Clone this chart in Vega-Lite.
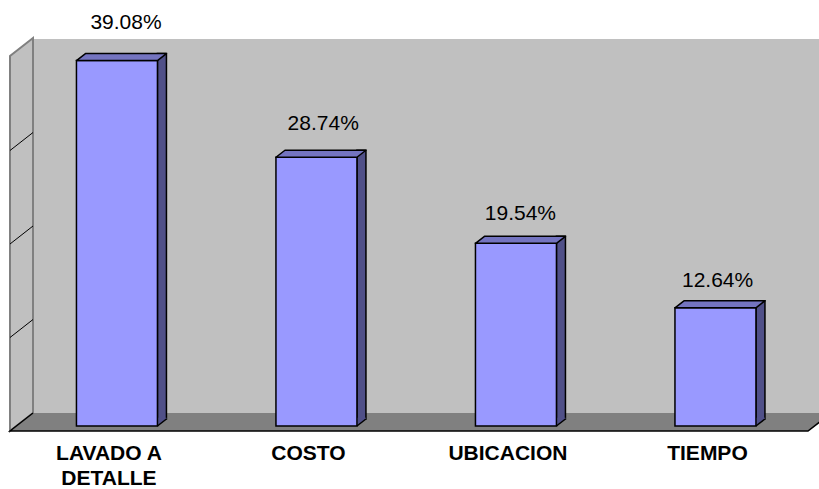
{
  "$schema": "https://vega.github.io/schema/vega-lite/v6.json",
  "width": 786,
  "height": 374,
  "autosize": {"type": "none"},
  "padding": {"left": 33, "top": 39, "right": 0, "bottom": 76},
  "background": "white",
  "view": {"fill": "#c0c0c0", "stroke": null},
  "config": {"font": "Liberation Sans"},
  "datasets": {
    "bars": [
      {"categoria": "LAVADO A DETALLE", "porcentaje": 0.3908},
      {"categoria": "COSTO", "porcentaje": 0.2874},
      {"categoria": "UBICACION", "porcentaje": 0.1954},
      {"categoria": "TIEMPO", "porcentaje": 0.1264}
    ],
    "grid": [{"g": 0.1}, {"g": 0.2}, {"g": 0.3}],
    "one": [{"k": 1}]
  },
  "layer": [
    {
      "resolve": {"scale": {"x": "independent"}, "axis": {"x": "independent"}},
      "layer": [
        {
          "data": {"name": "one"},
          "mark": {"type": "point", "shape": "M-23,18L-23,-357L0,-375L0,0Z", "size": 4, "filled": true, "fill": "#c0c0c0", "stroke": "#808080", "strokeWidth": 2, "opacity": 1},
          "encoding": {
            "x": {"datum": 0, "type": "quantitative", "scale": {"domain": [0, 1]}, "axis": null},
            "y": {"datum": 0, "type": "quantitative", "scale": {"domain": [0, 0.4], "zero": false, "nice": false}, "axis": null}
          }
        },
        {
          "data": {"name": "grid"},
          "mark": {"type": "rule", "color": "black", "strokeWidth": 1, "xOffset": -23, "yOffset": 18},
          "encoding": {
            "x": {"datum": 0, "type": "quantitative", "scale": {"domain": [0, 1]}, "axis": null},
            "x2": {"datum": 0},
            "y": {"field": "g", "type": "quantitative", "scale": {"domain": [0, 0.4], "zero": false, "nice": false}, "axis": null},
            "y2": {"field": "g"}
          }
        },
        {
          "data": {"name": "one"},
          "mark": {"type": "point", "shape": "M-23,18L0,0L800,0L775,18Z", "size": 4, "filled": true, "fill": "#808080", "strokeWidth": 0, "opacity": 1},
          "encoding": {
            "x": {"datum": 0, "type": "quantitative", "scale": {"domain": [0, 1]}, "axis": null},
            "y": {"datum": 0, "type": "quantitative", "scale": {"domain": [0, 0.4], "zero": false, "nice": false}, "axis": null}
          }
        },
        {
          "data": {"name": "one"},
          "mark": {"type": "point", "shape": "M0,0L-23,18L775,18L787,8.8", "size": 4, "filled": false, "stroke": "black", "strokeWidth": 1.5, "opacity": 1},
          "encoding": {
            "x": {"datum": 0, "type": "quantitative", "scale": {"domain": [0, 1]}, "axis": null},
            "y": {"datum": 0, "type": "quantitative", "scale": {"domain": [0, 0.4], "zero": false, "nice": false}, "axis": null}
          }
        },
        {
          "data": {"name": "bars"},
          "mark": {"type": "bar", "width": 9, "xOffset": 45, "yOffset": 6, "y2Offset": 6, "fill": "#505088", "stroke": "black", "strokeWidth": 1.5},
          "encoding": {
            "x": {"field": "categoria", "type": "nominal", "sort": null, "scale": {"type": "band", "paddingInner": 0.594, "paddingOuter": 0.2669, "align": 0.408}, "axis": null},
            "y": {"field": "porcentaje", "type": "quantitative", "scale": {"domain": [0, 0.4], "zero": false, "nice": false}, "axis": null},
            "y2": {"datum": 0}
          }
        },
        {
          "data": {"name": "bars"},
          "mark": {"type": "point", "shape": "M40.5,0L49.5,-7L49.5,-8.2L40.5,-8.2Z", "size": 4, "filled": true, "fill": "#505088", "strokeWidth": 0, "opacity": 1, "yOffset": 13},
          "encoding": {
            "x": {"field": "categoria", "type": "nominal", "sort": null, "scale": {"type": "band", "paddingInner": 0.594, "paddingOuter": 0.2669, "align": 0.408}, "axis": null},
            "y": {"datum": 0, "type": "quantitative", "scale": {"domain": [0, 0.4], "zero": false, "nice": false}, "axis": null}
          }
        },
        {
          "data": {"name": "bars"},
          "mark": {"type": "point", "shape": "M40.5,0L49.5,-7", "size": 4, "filled": false, "stroke": "black", "strokeWidth": 1.5, "opacity": 1, "yOffset": 13},
          "encoding": {
            "x": {"field": "categoria", "type": "nominal", "sort": null, "scale": {"type": "band", "paddingInner": 0.594, "paddingOuter": 0.2669, "align": 0.408}, "axis": null},
            "y": {"datum": 0, "type": "quantitative", "scale": {"domain": [0, 0.4], "zero": false, "nice": false}, "axis": null}
          }
        },
        {
          "data": {"name": "bars"},
          "mark": {"type": "bar", "yOffset": 13, "y2Offset": 13, "fill": "#9999ff", "stroke": "black", "strokeWidth": 1.5},
          "encoding": {
            "x": {
              "field": "categoria", "type": "nominal", "sort": null,
              "scale": {"type": "band", "paddingInner": 0.594, "paddingOuter": 0.2669, "align": 0.408},
              "axis": {
                "title": null, "domain": false, "ticks": false, "tickSize": 0, "grid": false,
                "labelAngle": 0, "labelBaseline": "alphabetic", "labelPadding": 46, "labelOffset": -8,
                "labelFont": "Liberation Sans", "labelFontSize": 21, "labelFontWeight": "bold", "labelColor": "black",
                "labelLineHeight": 25, "labelOverlap": false,
                "labelExpr": "datum.value == 'LAVADO A DETALLE' ? ['LAVADO A', 'DETALLE'] : datum.label"
              }
            },
            "y": {
              "field": "porcentaje", "type": "quantitative",
              "scale": {"domain": [0, 0.4], "zero": false, "nice": false},
              "axis": {
                "title": null, "values": [0.1, 0.2, 0.3, 0.4], "labels": false, "ticks": false, "tickSize": 0,
                "grid": true,
                "gridColor": {"condition": {"test": "datum.value > 0.35", "value": "#808080"}, "value": "black"},
                "gridWidth": {"condition": {"test": "datum.value > 0.35", "value": 2.5}, "value": 1},
                "gridOpacity": 1,
                "domain": true, "domainColor": "#808080", "domainWidth": 2
              }
            },
            "y2": {"datum": 0}
          }
        },
        {
          "data": {"name": "bars"},
          "mark": {"type": "point", "shape": "M-40.5,0L40.5,0L49.5,-7L-31.5,-7Z", "size": 4, "filled": true, "fill": "#7474c0", "stroke": "black", "strokeWidth": 1.5, "strokeJoin": "round", "opacity": 1, "yOffset": 13},
          "encoding": {
            "x": {"field": "categoria", "type": "nominal", "sort": null, "scale": {"type": "band", "paddingInner": 0.594, "paddingOuter": 0.2669, "align": 0.408}, "axis": null},
            "y": {"field": "porcentaje", "type": "quantitative", "scale": {"domain": [0, 0.4], "zero": false, "nice": false}, "axis": null}
          }
        }
      ]
    },
    {
      "data": {"name": "bars"},
      "mark": {"type": "text", "baseline": "alphabetic", "align": "center", "font": "Liberation Sans", "fontSize": 21, "color": "black"},
      "encoding": {
        "x": {"field": "categoria", "type": "nominal", "sort": null, "scale": {"type": "band", "paddingInner": 0.6, "paddingOuter": 0.2929, "align": 0.4637}, "axis": null},
        "y": {"field": "porcentaje", "type": "quantitative", "scale": {"domain": [-0.00334, 0.3809], "zero": false, "nice": false}, "axis": null},
        "text": {"field": "porcentaje", "type": "quantitative", "format": ".2%"}
      }
    }
  ],
  "resolve": {"scale": {"x": "independent", "y": "independent"}, "axis": {"x": "independent", "y": "independent"}}
}
